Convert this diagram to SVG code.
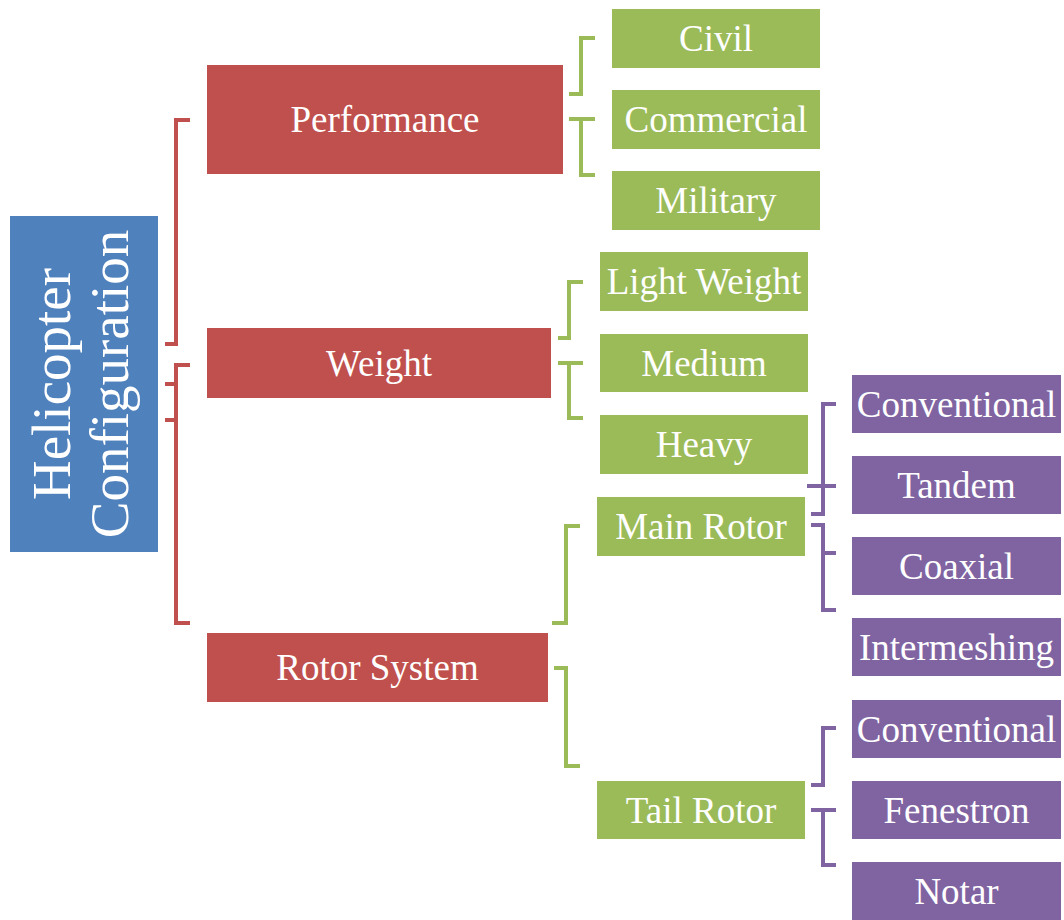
<svg xmlns="http://www.w3.org/2000/svg" width="1064" height="920" viewBox="0 0 1064 920">
<style>
text{fill:#fff;text-anchor:middle}
.t{font-size:37px}
.root{font-size:55px}
.b{fill:#4F81BD}
.r{fill:#C0504D}
.g{fill:#9BBB59}
.p{fill:#8064A2}
.c{fill:none;stroke-width:4;stroke-linejoin:miter}
.cr{stroke:#C0504D}
.cg{stroke:#9BBB59}
.cp{stroke:#8064A2}
</style>
<rect width="1064" height="920" fill="#fff"/>
<g id="connectors">
<path class="c cr" d="M190,120 H176 V344 H165"/>
<path class="c cr" d="M190,365 H176 V623 H190 M165,384 H176 M165,420 H176"/>
<path class="c cg" d="M595,38 H581 V94 H569"/>
<path class="c cg" d="M569,119 H595 M581,119 V175 H595"/>
<path class="c cg" d="M583,282 H569 V338 H558"/>
<path class="c cg" d="M558,363 H583 M569,363 V418 H583"/>
<path class="c cg" d="M580,526 H566 V623 H552"/>
<path class="c cg" d="M554,668 H566 V766 H580"/>
<path class="c cp" d="M836,404 H823 V514 H811 M807,486 H836"/>
<path class="c cp" d="M811,525 H823 V610 H836 M823,553 H836"/>
<path class="c cp" d="M836,728 H823 V785 H811"/>
<path class="c cp" d="M811,810 H836 M823,810 V865 H836"/>
</g>
<g font-family="Liberation Serif, Tinos, Times New Roman, serif">
<g id="root"><rect class="b" x="10" y="216" width="148" height="336"/>
<text class="root" transform="rotate(-90 84 384)"><tspan x="84" y="370">Helicopter</tspan><tspan x="84" y="428">Configuration</tspan></text></g>
<g id="performance"><rect class="r" x="207" y="65" width="356" height="109"/><text class="t" x="385" y="132">Performance</text></g>
<g id="weight"><rect class="r" x="207" y="328" width="344" height="70"/><text class="t" x="379" y="375.5">Weight</text></g>
<g id="rotor-system"><rect class="r" x="207" y="633" width="341" height="69"/><text class="t" x="377.5" y="680">Rotor System</text></g>
<g id="civil"><rect class="g" x="612" y="9" width="208" height="59"/><text class="t" x="716" y="51">Civil</text></g>
<g id="commercial"><rect class="g" x="612" y="90" width="208" height="59"/><text class="t" x="716" y="132">Commercial</text></g>
<g id="military"><rect class="g" x="612" y="171" width="208" height="59"/><text class="t" x="716" y="213">Military</text></g>
<g id="light-weight"><rect class="g" x="600" y="252" width="208" height="59"/><text class="t" x="704" y="294">Light Weight</text></g>
<g id="medium"><rect class="g" x="600" y="334" width="208" height="58"/><text class="t" x="704" y="375.5">Medium</text></g>
<g id="heavy"><rect class="g" x="600" y="415" width="208" height="59"/><text class="t" x="704" y="457">Heavy</text></g>
<g id="main-rotor"><rect class="g" x="597" y="497" width="208" height="59"/><text class="t" x="701" y="539">Main Rotor</text></g>
<g id="tail-rotor"><rect class="g" x="597" y="781" width="208" height="58"/><text class="t" x="701" y="822.5">Tail Rotor</text></g>
<g id="conventional-main"><rect class="p" x="852" y="375" width="209" height="58"/><text class="t" x="956.5" y="416.5">Conventional</text></g>
<g id="tandem"><rect class="p" x="852" y="456" width="209" height="58"/><text class="t" x="956.5" y="497.5">Tandem</text></g>
<g id="coaxial"><rect class="p" x="852" y="537" width="209" height="58"/><text class="t" x="956.5" y="578.5">Coaxial</text></g>
<g id="intermeshing"><rect class="p" x="852" y="618" width="209" height="58"/><text class="t" x="956.5" y="659.5">Intermeshing</text></g>
<g id="conventional-tail"><rect class="p" x="852" y="700" width="209" height="58"/><text class="t" x="956.5" y="741.5">Conventional</text></g>
<g id="fenestron"><rect class="p" x="852" y="781" width="209" height="58"/><text class="t" x="956.5" y="822.5">Fenestron</text></g>
<g id="notar"><rect class="p" x="852" y="862" width="209" height="58"/><text class="t" x="956.5" y="903.5">Notar</text></g>
</g>
</svg>
